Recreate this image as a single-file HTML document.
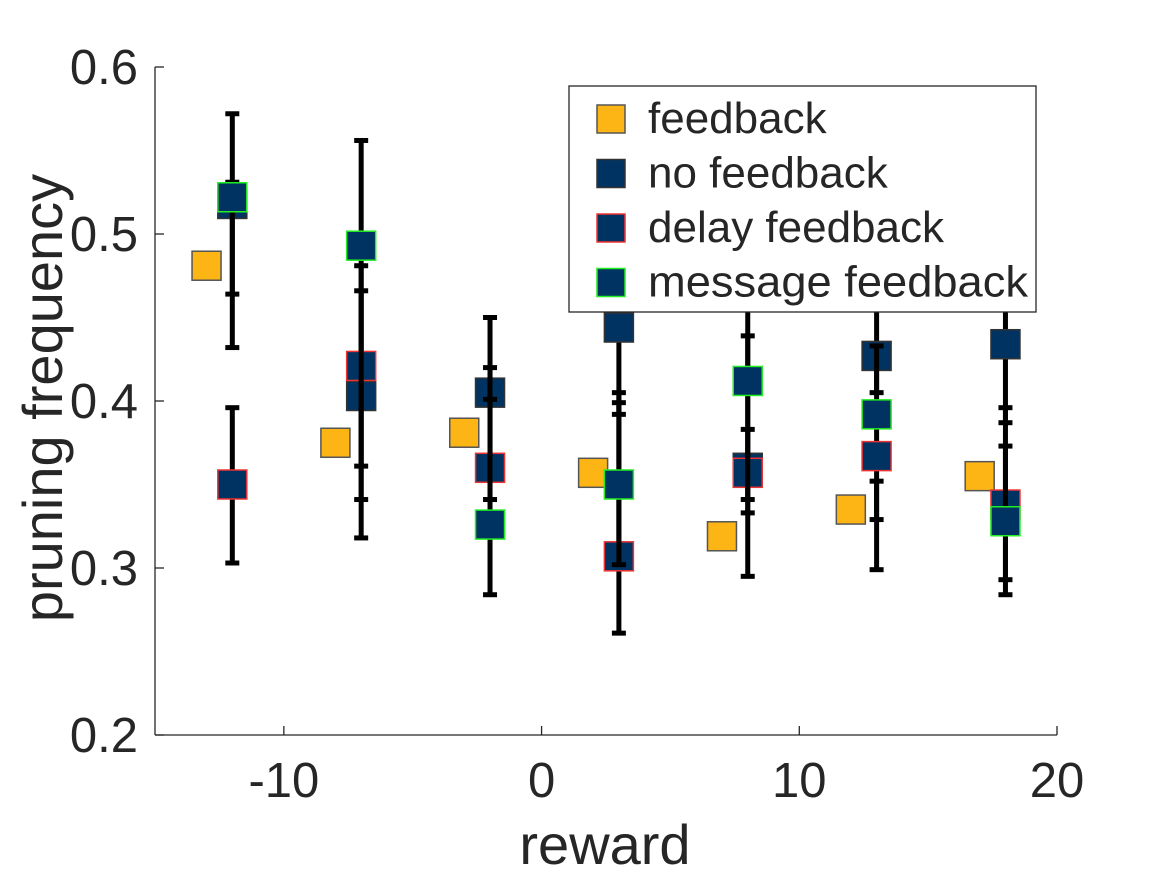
<!DOCTYPE html>
<html><head><meta charset="utf-8"><style>
body{margin:0;background:#fff;}
svg text{font-family:"Liberation Sans",Arial,sans-serif;fill:#262626;}
</style></head><body>
<svg id="chart" width="1167" height="875" xmlns="http://www.w3.org/2000/svg"></svg>
<script>
const xs = [-12, -7, -2, 3, 8, 13, 18];
const fbX = [-13, -8, -3, 2, 7, 12, 17];
const fbY = [0.481, 0.375, 0.381, 0.357, 0.319, 0.335, 0.355];
const noY  = [0.518, 0.403, 0.405, 0.444, 0.360, 0.427, 0.434];
const noLo = [0.464, 0.341, 0.367, 0.392, 0.333, 0.405, 0.387];
const noHi = [0.572, 0.466, 0.450, 0.500, 0.383, 0.480, 0.480];
const dlY  = [0.350, 0.421, 0.360, 0.307, 0.357, 0.367, 0.338];
const dlLo = [0.303, 0.361, 0.341, 0.261, 0.295, 0.299, 0.284];
const dlHi = [0.396, 0.481, 0.401, 0.405, 0.470, 0.433, 0.396];
const msY  = [0.522, 0.493, 0.326, 0.350, 0.412, 0.392, 0.328];
const msLo = [0.432, 0.318, 0.284, 0.302, 0.341, 0.329, 0.293];
const msHi = [0.531, 0.556, 0.420, 0.399, 0.439, 0.352, 0.373];
const yTicks = [0.2, 0.3, 0.4, 0.5, 0.6];
const yTickLabels = ["0.2", "0.3", "0.4", "0.5", "0.6"];
const xTicks = [-10, 0, 10, 20];
const xTickLabels = ["-10", "0", "10", "20"];

const svg = document.getElementById('chart');
const NS = 'http://www.w3.org/2000/svg';
const L = 155, R = 1057, T = 67, B = 735;
const sx = v => L + (v + 15) / 35 * (R - L);
const sy = v => B - (v - 0.2) / 0.4 * (B - T);
function mk(tag, attrs, parent) {
  const e = document.createElementNS(NS, tag);
  for (const k in attrs) e.setAttribute(k, attrs[k]);
  (parent || svg).appendChild(e);
  return e;
}
let ax = mk('line', {x1: L, y1: B, x2: R, y2: B, stroke: '#262626', 'stroke-width': 1.3});


ax = mk('line', {x1: L, y1: T, x2: L, y2: B, stroke: '#262626', 'stroke-width': 1.3});


yTicks.forEach((v, i) => {
  mk('line', {x1: L, y1: sy(v), x2: L + 9, y2: sy(v), stroke: '#262626', 'stroke-width': 1.3});
  const t = mk('text', {x: L - 17, y: sy(v) + 17, 'text-anchor': 'end', 'font-size': 49});
  t.textContent = yTickLabels[i];
  
  
});
xTicks.forEach((v, i) => {
  mk('line', {x1: sx(v), y1: B, x2: sx(v), y2: B - 9, stroke: '#262626', 'stroke-width': 1.3});
  const t = mk('text', {x: sx(v), y: B + 62, 'text-anchor': 'middle', 'font-size': 49});
  t.textContent = xTickLabels[i];
  
  
});
let lab = mk('text', {x: 605, y: 864, 'text-anchor': 'middle', 'font-size': 56});
lab.textContent = 'reward';


lab = mk('text', {x: 0, y: 0, 'text-anchor': 'middle', 'font-size': 56, transform: 'translate(62,398) rotate(-90)'});
lab.textContent = 'pruning frequency';



const S = 29;
function square(x, y, fill, edge, name) {
  const r = mk('rect', {x: x - S / 2, y: y - S / 2, width: S, height: S, fill: fill, stroke: edge, 'stroke-width': 1.5});
  
  
}
function errbar(x, lo, hi, name) {
  const g = mk('g', {});
  
  
  mk('line', {x1: x, y1: sy(lo), x2: x, y2: sy(hi), stroke: '#000', 'stroke-width': 5}, g);
  mk('line', {x1: x - 7, y1: sy(lo), x2: x + 7, y2: sy(lo), stroke: '#000', 'stroke-width': 5}, g);
  mk('line', {x1: x - 7, y1: sy(hi), x2: x + 7, y2: sy(hi), stroke: '#000', 'stroke-width': 5}, g);
}
fbX.forEach((v, i) => square(sx(v), sy(fbY[i]), '#FDB515', '#555', 'feedback-marker'));
xs.forEach((v, i) => { errbar(sx(v), noLo[i], noHi[i], 'no-feedback-errorbar'); square(sx(v), sy(noY[i]), '#003262', '#333', 'no-feedback-marker'); });
xs.forEach((v, i) => { errbar(sx(v), dlLo[i], dlHi[i], 'delay-feedback-errorbar'); square(sx(v), sy(dlY[i]), '#003262', '#ee3333', 'delay-feedback-marker'); });
xs.forEach((v, i) => { errbar(sx(v), msLo[i], msHi[i], 'message-feedback-errorbar'); square(sx(v), sy(msY[i]), '#003262', '#22ee22', 'message-feedback-marker'); });

const lg = mk('g', {});


mk('rect', {x: 569, y: 86, width: 467, height: 226, fill: '#fff', stroke: '#262626', 'stroke-width': 1.3}, lg);
const legNames = ['feedback', 'no feedback', 'delay feedback', 'message feedback'];
const legFill = ['#FDB515', '#003262', '#003262', '#003262'];
const legEdge = ['#555', '#333', '#ee3333', '#22ee22'];
legNames.forEach((n, i) => {
  const y = 119 + i * 54.5;
  const e = mk('g', {}, lg);
  
  
  mk('rect', {x: 597, y: y - 14, width: 28, height: 28, fill: legFill[i], stroke: legEdge[i], 'stroke-width': 1.5}, e);
  const t = mk('text', {x: 648, y: y + 14, 'font-size': 44, textLength: 380, lengthAdjust: 'spacingAndGlyphs'}, e);
  if (i !== 3) t.removeAttribute('textLength');
  if (i !== 3) t.removeAttribute('lengthAdjust');
  t.textContent = n;
});
</script>
</body></html>
